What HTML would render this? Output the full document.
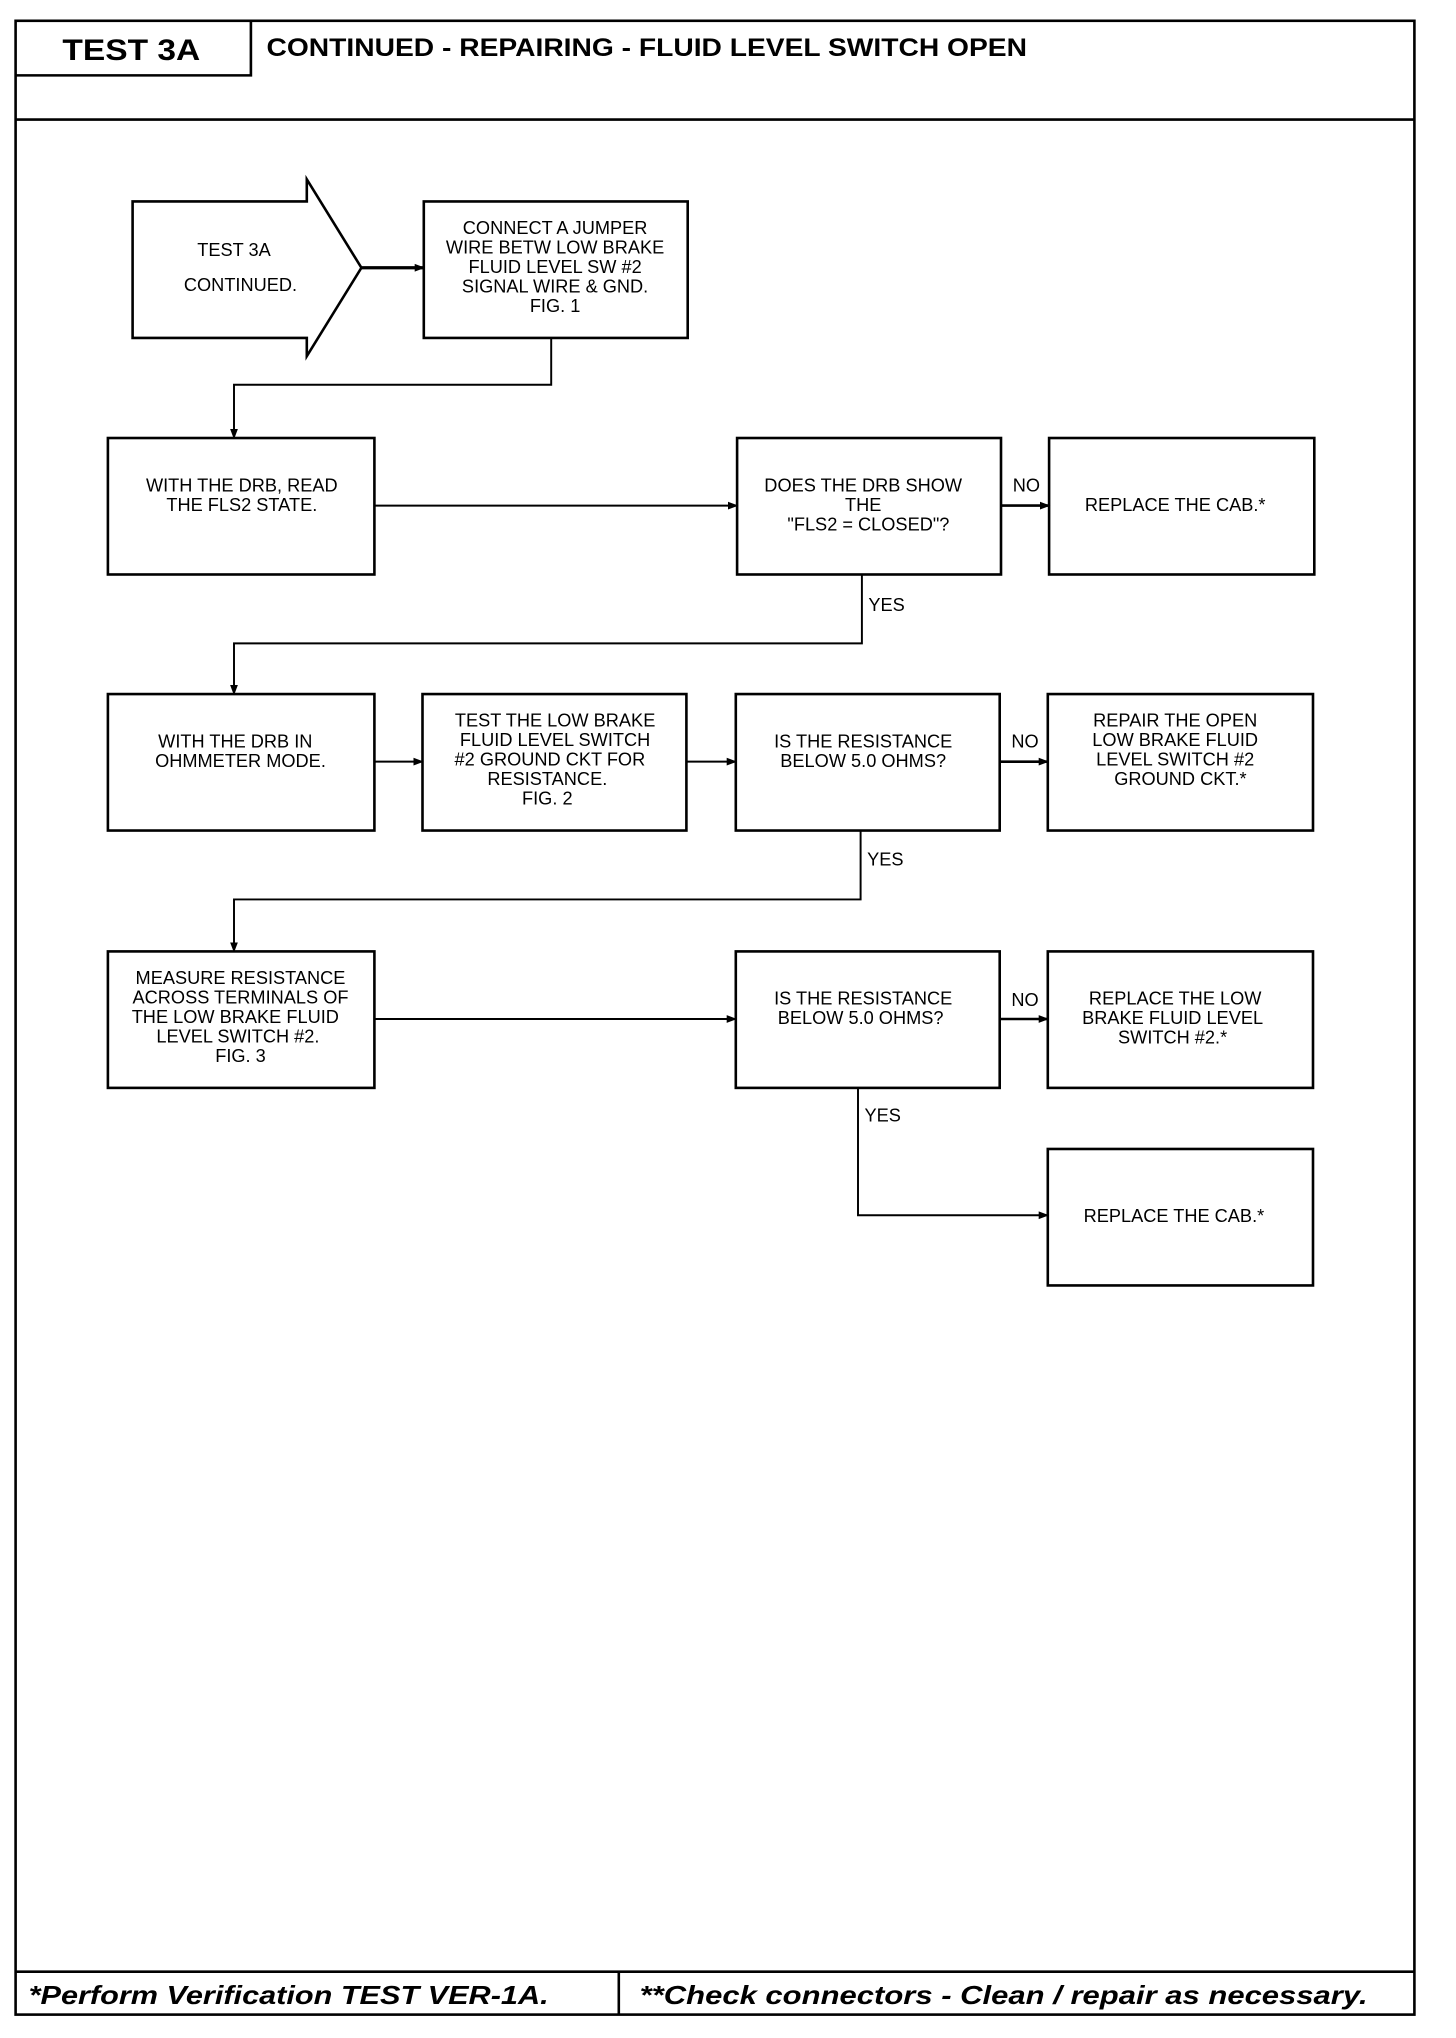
<!DOCTYPE html>
<html><head><meta charset="utf-8"><style>
html,body{margin:0;padding:0;background:#fff;}
svg{display:block;}
.t{font-family:"Liberation Sans",sans-serif;font-size:14px;fill:#000;text-anchor:middle;}
.l{font-family:"Liberation Sans",sans-serif;font-size:14px;fill:#000;}
</style></head><body>
<svg width="1456" height="2038" viewBox="0 0 1120 1568" preserveAspectRatio="none" xmlns="http://www.w3.org/2000/svg">
<defs><marker id="a" markerWidth="8" markerHeight="8" refX="7" refY="4" orient="auto" markerUnits="userSpaceOnUse"><path d="M0,1 L8,4 L0,7 Z" fill="#000"/></marker></defs>
<g fill="none" stroke="#000" stroke-width="2">
<rect x="12" y="16" width="1076" height="1534"/>
<path d="M12,58 H193 V16"/>
<line x1="12" y1="92" x2="1088" y2="92"/>
<line x1="12" y1="1517" x2="1088" y2="1517"/>
<line x1="476" y1="1517" x2="476" y2="1550"/>
<path d="M102,155 H236 V138 L278,206 L236,274 V260 H102 Z"/>
<rect x="326" y="155" width="203" height="105"/>
<rect x="83" y="337" width="205" height="105"/>
<rect x="567" y="337" width="203" height="105"/>
<rect x="807" y="337" width="204" height="105"/>
<rect x="83" y="534" width="205" height="105"/>
<rect x="325" y="534" width="203" height="105"/>
<rect x="566" y="534" width="203" height="105"/>
<rect x="806" y="534" width="204" height="105"/>
<rect x="83" y="732" width="205" height="105"/>
<rect x="566" y="732" width="203" height="105"/>
<rect x="806" y="732" width="204" height="105"/>
<rect x="806" y="884" width="204" height="105"/>
</g>
<g fill="none" stroke="#000" stroke-width="1.5" marker-end="url(#a)">
<line x1="278" y1="206" x2="326" y2="206" stroke-width="2.5"/>
<path d="M424,260 V296 H180 V337"/>
<line x1="288" y1="389" x2="567" y2="389"/>
<line x1="770" y1="389" x2="807" y2="389" stroke-width="2"/>
<path d="M663,442 V495 H180 V534"/>
<line x1="288" y1="586" x2="325" y2="586"/>
<line x1="528" y1="586" x2="566" y2="586"/>
<line x1="769" y1="586" x2="806" y2="586" stroke-width="2"/>
<path d="M662,639 V692 H180 V732"/>
<line x1="288" y1="784" x2="566" y2="784"/>
<line x1="769" y1="784" x2="806" y2="784" stroke-width="2"/>
<path d="M660,837 V935 H806"/>
</g>
<text x="101" y="46" font-family="Liberation Sans,sans-serif" font-weight="bold" font-size="23" text-anchor="middle" textLength="106" lengthAdjust="spacingAndGlyphs">TEST 3A</text>
<text x="205" y="43" font-family="Liberation Sans,sans-serif" font-weight="bold" font-size="19" textLength="585" lengthAdjust="spacingAndGlyphs">CONTINUED - REPAIRING - FLUID LEVEL SWITCH OPEN</text>
<text x="22" y="1542" font-family="Liberation Sans,sans-serif" font-weight="bold" font-style="italic" font-size="20" textLength="400" lengthAdjust="spacingAndGlyphs">*Perform Verification TEST VER-1A.</text>
<text x="492" y="1542" font-family="Liberation Sans,sans-serif" font-weight="bold" font-style="italic" font-size="20" textLength="560" lengthAdjust="spacingAndGlyphs">**Check connectors - Clean / repair as necessary.</text>
<g class="t">
<text x="180" y="197">TEST 3A</text>
<text x="185" y="224">CONTINUED.</text>
<text x="427" y="180">CONNECT A JUMPER</text>
<text x="427" y="195">WIRE BETW LOW BRAKE</text>
<text x="427" y="210">FLUID LEVEL SW #2</text>
<text x="427" y="225">SIGNAL WIRE &amp; GND.</text>
<text x="427" y="240">FIG. 1</text>
<text x="186" y="378">WITH THE DRB, READ</text>
<text x="186" y="393">THE FLS2 STATE.</text>
<text x="664" y="378">DOES THE DRB SHOW</text>
<text x="664" y="393">THE</text>
<text x="668" y="408">"FLS2 = CLOSED"?</text>
<text x="904" y="393">REPLACE THE CAB.*</text>
<text x="181" y="575">WITH THE DRB IN</text>
<text x="185" y="590">OHMMETER MODE.</text>
<text x="427" y="559">TEST THE LOW BRAKE</text>
<text x="427" y="574">FLUID LEVEL SWITCH</text>
<text x="423" y="589">#2 GROUND CKT FOR</text>
<text x="421" y="604">RESISTANCE.</text>
<text x="421" y="619">FIG. 2</text>
<text x="664" y="575">IS THE RESISTANCE</text>
<text x="664" y="590">BELOW 5.0 OHMS?</text>
<text x="904" y="559">REPAIR THE OPEN</text>
<text x="904" y="574">LOW BRAKE FLUID</text>
<text x="904" y="589">LEVEL SWITCH #2</text>
<text x="908" y="604">GROUND CKT.*</text>
<text x="185" y="757">MEASURE RESISTANCE</text>
<text x="185" y="772">ACROSS TERMINALS OF</text>
<text x="181" y="787">THE LOW BRAKE FLUID</text>
<text x="183" y="802">LEVEL SWITCH #2.</text>
<text x="185" y="817">FIG. 3</text>
<text x="664" y="773">IS THE RESISTANCE</text>
<text x="662" y="788">BELOW 5.0 OHMS?</text>
<text x="904" y="773">REPLACE THE LOW</text>
<text x="902" y="788">BRAKE FLUID LEVEL</text>
<text x="902" y="803">SWITCH #2.*</text>
<text x="903" y="940">REPLACE THE CAB.*</text>
</g>
<g class="l">
<text x="779" y="378">NO</text>
<text x="668" y="470">YES</text>
<text x="778" y="575">NO</text>
<text x="667" y="666">YES</text>
<text x="778" y="774">NO</text>
<text x="665" y="863">YES</text>
</g>
</svg>
</body></html>
